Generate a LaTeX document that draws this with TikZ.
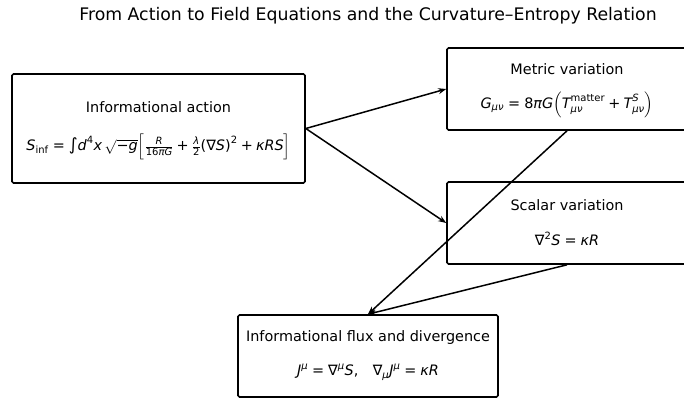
\documentclass[tikz,border=0pt]{standalone}
\usepackage{amsmath}
\usepackage{fontspec}
\setmainfont{DejaVu Sans}
\usetikzlibrary{arrows.meta}
\newcommand{\I}[1]{\text{\itshape #1}}
\newcommand{\R}[1]{\text{#1}}
\newcommand{\eqq}{\mathrel{\text{=}}}
\newcommand{\pll}{\mathbin{\text{+}}}
\tikzset{
  box/.style={draw, line width=1.6pt, rounded corners=1.5pt, inner sep=0pt},
  lbl/.style={font=\fontsize{14.4}{17}\selectfont, inner sep=0pt},
  conn/.style={line width=1.5pt, -{Stealth[length=8pt,width=6pt]}},
}
\begin{document}
\begin{tikzpicture}[x=1pt,y=-1pt]
\useasboundingbox (0,0) rectangle (684,398);
\begin{scope}
\clip (0,0) rectangle (684,398);
\node[lbl, font=\fontsize{17.3}{20}\selectfont] (title) at (368,16) {From Action to Field Equations and the Curvature–Entropy Relation};

\node[box, minimum width=293pt, minimum height=109pt] (act) at (158.5,128.5) {};
\node[lbl] (actT) at (158.5,107) {Informational action};
\node[lbl] (actF) at (158.5,147) {$\I{S}_{\R{inf}} \eqq \R{\fontsize{17}{17}\selectfont ∫}\I{d}^{\R{4}}\I{x}\,\sqrt{\R{−}\I{g}}\!\left[\frac{\I{R}}{\R{16}\I{πG}} \pll \frac{\I{λ}}{\R{2}}\R{(∇}\I{S}\R{)}^{\R{2}} \pll \I{κRS}\right]$};

\node[box, minimum width=240pt, minimum height=82pt] (met) at (567,89) {};
\node[lbl] (metT) at (567,69) {Metric variation};
\node[lbl] (metF) at (567,105) {$\I{G}_{\I{μν}} \eqq \R{8}\I{πG}\!\left(\I{T}^{\R{matter}}_{\I{μν}} \pll \I{T}^{\I{S}}_{\I{μν}}\right)$};

\node[box, minimum width=240pt, minimum height=82pt] (sca) at (567,223) {};
\node[lbl] (scaT) at (567,205) {Scalar variation};
\node[lbl] (scaF) at (567,239) {$\R{∇}^{\R{2}}\I{S} \eqq \I{κR}$};

\node[box, minimum width=260pt, minimum height=82pt] (flx) at (368,356) {};
\node[lbl] (flxT) at (368,338) {Informational flux and divergence};
\node[lbl] (flxF) at (368,372) {$\I{J}^{\I{μ}} \eqq \R{∇}^{\I{μ}}\I{S}\R{,}\quad \R{∇}_{\I{μ}}\I{J}^{\I{μ}} \eqq \I{κR}$};

\draw[conn] (act.east) -- (met.west);
\draw[conn] (act.east) -- (sca.west);
\draw[conn] (met.south) -- (flx.north);
\draw[conn] (sca.south) -- (flx.north);
\end{scope}
\end{tikzpicture}
\end{document}
